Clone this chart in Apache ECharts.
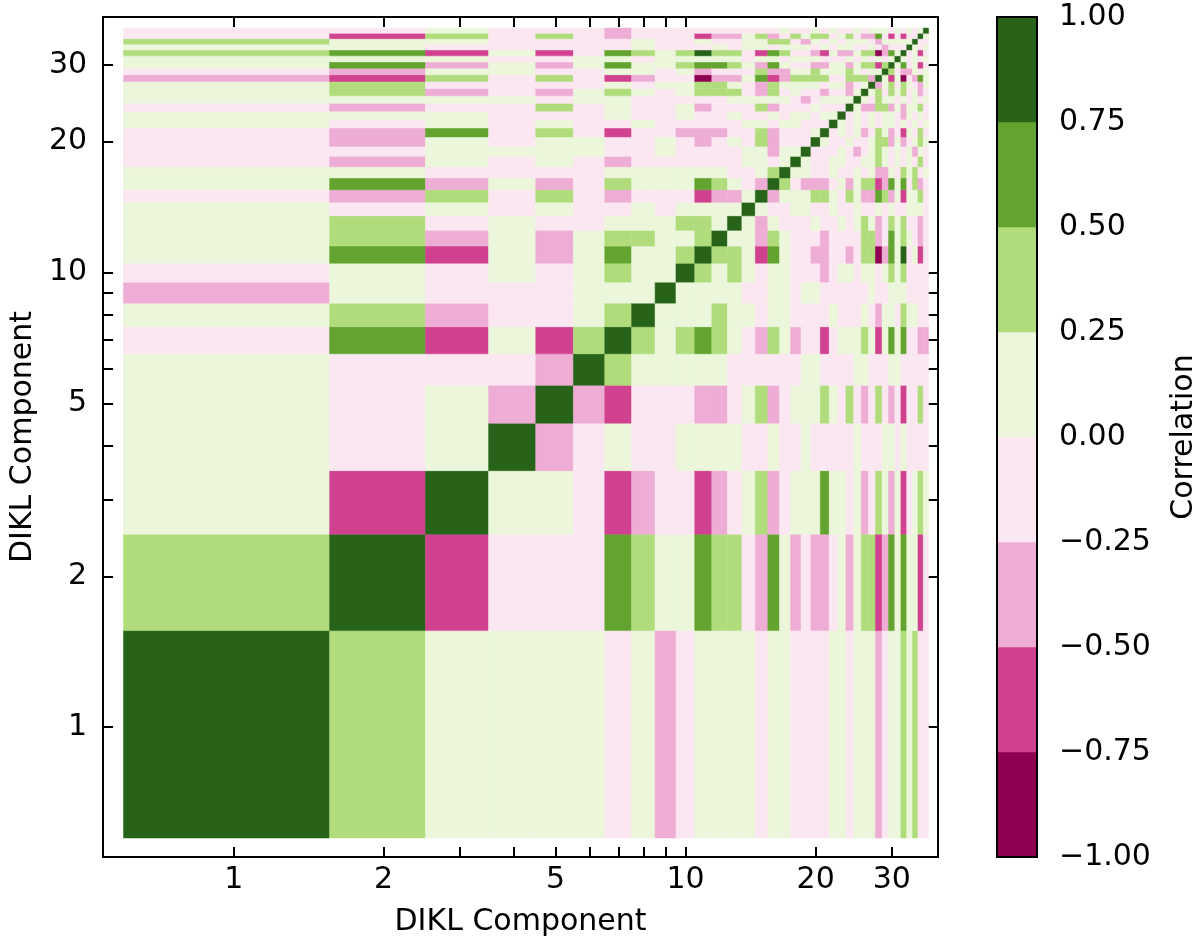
<!DOCTYPE html>
<html>
<head>
<meta charset="utf-8">
<script src="https://cdn.jsdelivr.net/npm/echarts@6/dist/echarts.min.js"></script>
<style>html,body{margin:0;padding:0;background:#fff}#chart{width:1200px;height:947px}</style>
</head>
<body>
<div id="chart"></div>
<script>
// ---------------- data ----------------
const componentCount = 36;
const tickPositions = [0.9, 2, 5, 10, 20, 30];
const tickLabels = ['1', '2', '5', '10', '20', '30'];
const minorTickPositions = [3, 4, 6, 7, 8, 9];
const colorBounds = [-1, -0.75, -0.5, -0.25, 0, 0.25, 0.5, 0.75, 1];
const binColors = ['#8e0152', '#d0428f', '#eeadd4', '#fbe7f1', '#ebf6db', '#b0dc7c', '#62a42f', '#276419'];

// correlation of component i with components j = i+1 .. 36
const c01 = [0.4, 0.1, 0.1, 0.1, 0.1, -0.1, 0.1, -0.4, -0.1, 0.1, 0.1, 0.1, 0.1, -0.1, 0.1, 0.1, -0.1, -0.1, -0.1, -0.1, 0.1, 0.1, -0.1, 0.1, 0.1, 0.1, -0.4, -0.1, 0.1, 0.1, 0.4, 0.1, 0.4, -0.1, -0.1];
const c02 = [-0.6, -0.1, -0.1, -0.1, 0.6, 0.4, 0.1, 0.1, 0.6, 0.4, 0.4, -0.1, -0.4, 0.6, 0.1, -0.4, -0.1, -0.4, -0.4, -0.1, 0.1, -0.4, 0.1, 0.4, 0.4, -0.6, -0.4, 0.6, 0.1, 0.6, 0.1, 0.1, -0.6, -0.1];
const c03 = [0.1, 0.1, -0.1, -0.6, -0.4, -0.1, -0.1, -0.6, -0.4, -0.1, 0.1, 0.4, -0.4, -0.1, 0.1, 0.1, 0.1, 0.6, 0.1, 0.1, -0.1, 0.1, -0.4, -0.1, 0.4, 0.1, -0.4, 0.1, -0.6, -0.1, 0.1, 0.4, 0.1];
const c04 = [-0.4, -0.1, 0.1, -0.1, -0.1, 0.1, 0.1, 0.1, 0.1, -0.1, -0.1, 0.1, -0.1, -0.1, 0.1, -0.1, -0.1, -0.1, -0.1, -0.1, 0.1, -0.1, -0.1, -0.1, 0.1, 0.1, -0.1, 0.1, -0.1, -0.1, -0.1, -0.1];
const c05 = [-0.4, -0.6, -0.1, -0.1, -0.1, -0.4, -0.4, -0.1, 0.1, 0.4, -0.4, -0.1, 0.1, 0.1, 0.1, 0.4, 0.1, -0.1, 0.4, -0.1, -0.4, -0.1, 0.4, -0.1, -0.4, -0.1, -0.6, -0.1, -0.1, 0.4, -0.1];
const c06 = [0.4, 0.1, 0.1, 0.1, 0.1, 0.1, -0.1, -0.1, -0.1, -0.1, -0.1, -0.1, 0.1, 0.1, -0.1, -0.1, -0.1, -0.1, 0.1, 0.1, -0.1, -0.1, -0.1, 0.1, 0.1, -0.1, -0.1, -0.1, -0.1, -0.1];
const c07 = [0.4, 0.1, 0.4, 0.6, 0.4, 0.1, -0.1, -0.4, 0.4, 0.1, -0.4, -0.1, -0.1, -0.6, -0.1, 0.1, 0.1, 0.1, 0.4, 0.1, -0.6, 0.1, 0.6, 0.1, 0.6, -0.1, -0.1, -0.4, -0.4];
const c08 = [0.1, 0.1, 0.1, 0.4, 0.1, 0.1, -0.1, 0.1, 0.1, -0.1, -0.1, -0.1, -0.1, 0.1, -0.1, -0.1, -0.1, 0.1, -0.1, -0.4, 0.1, 0.1, -0.1, 0.4, 0.1, 0.1, -0.1, -0.1];
const c09 = [0.1, 0.1, 0.1, 0.1, -0.1, -0.1, 0.1, 0.1, -0.1, 0.1, 0.1, -0.1, -0.1, -0.1, -0.1, -0.1, -0.1, 0.1, -0.1, -0.1, 0.1, 0.1, 0.1, -0.1, -0.1, -0.1, -0.1];
const c10 = [0.4, 0.1, 0.4, 0.1, -0.1, 0.1, 0.1, -0.1, -0.1, -0.1, -0.4, -0.1, 0.1, 0.1, -0.1, 0.1, 0.1, -0.1, 0.1, 0.4, 0.1, 0.4, -0.1, -0.1, -0.1, -0.1];
const c11 = [0.4, 0.4, 0.1, -0.6, 0.6, 0.1, -0.1, -0.1, -0.4, -0.4, -0.1, -0.1, -0.4, -0.1, 0.4, 0.4, -0.9, -0.4, 0.6, 0.1, 0.9, -0.1, 0.1, -0.6, -0.1];
const c12 = [0.1, 0.1, -0.4, 0.4, 0.1, -0.1, -0.1, -0.1, -0.4, -0.1, -0.1, -0.1, -0.1, 0.4, 0.4, -0.4, -0.1, 0.6, 0.1, 0.4, 0.1, -0.1, -0.4, -0.1];
const c13 = [0.1, -0.4, 0.1, -0.1, -0.1, -0.1, 0.1, -0.1, -0.1, 0.1, -0.1, 0.1, 0.4, 0.1, -0.4, -0.1, 0.4, 0.1, 0.4, -0.1, -0.1, -0.4, -0.1];
const c14 = [0.1, -0.1, -0.1, 0.1, 0.1, -0.1, -0.1, 0.1, -0.1, -0.1, 0.1, -0.1, -0.1, 0.1, -0.1, 0.1, -0.1, -0.1, 0.1, 0.1, 0.1, -0.1];
const c15 = [-0.4, 0.1, 0.1, 0.1, 0.4, 0.4, 0.1, -0.1, 0.4, 0.1, -0.4, -0.4, 0.6, 0.4, -0.4, 0.1, -0.6, 0.1, 0.1, 0.4, -0.1];
const c16 = [0.4, -0.1, -0.4, -0.4, -0.4, -0.1, 0.1, -0.4, 0.1, 0.4, 0.4, -0.6, -0.4, 0.6, 0.1, 0.6, -0.1, 0.4, -0.4, -0.1];
const c17 = [0.1, 0.1, -0.1, -0.1, 0.1, -0.1, -0.1, 0.1, -0.1, 0.1, -0.4, -0.4, 0.1, -0.1, 0.4, 0.1, 0.4, -0.1, 0.1];
const c18 = [0.1, -0.1, -0.1, 0.1, 0.1, -0.1, -0.1, 0.1, 0.1, 0.4, 0.1, -0.1, 0.1, -0.1, 0.1, -0.1, 0.4, -0.1];
const c19 = [-0.1, -0.1, -0.1, 0.1, -0.1, -0.4, -0.1, 0.1, 0.4, 0.1, -0.1, 0.1, -0.1, 0.1, -0.4, 0.1, -0.1];
const c20 = [0.1, -0.1, -0.1, 0.1, -0.1, -0.1, 0.1, 0.4, 0.4, -0.4, 0.1, -0.4, -0.1, 0.1, 0.4, 0.1];
const c21 = [-0.1, 0.1, -0.1, 0.1, -0.4, -0.1, 0.4, 0.1, -0.4, -0.1, -0.6, 0.1, -0.1, 0.4, -0.1];
const c22 = [0.1, -0.1, 0.1, -0.1, 0.1, -0.1, 0.1, 0.1, -0.1, 0.1, -0.1, 0.1, -0.1, 0.1];
const c23 = [-0.1, 0.1, -0.1, 0.1, -0.1, 0.1, 0.1, -0.1, -0.4, 0.1, -0.1, 0.1, -0.1];
const c24 = [0.1, -0.4, -0.4, 0.4, 0.4, -0.4, 0.1, -0.4, 0.1, 0.1, 0.4, -0.1];
const c25 = [0.1, -0.1, 0.4, 0.1, 0.1, -0.1, 0.1, -0.1, 0.1, -0.1, 0.1];
const c26 = [0.1, 0.4, -0.1, 0.4, 0.1, 0.4, -0.1, 0.1, -0.4, -0.1];
const c27 = [-0.4, 0.1, 0.4, -0.1, 0.4, 0.1, -0.1, -0.4, 0.1];
const c28 = [0.1, -0.6, 0.1, -0.9, -0.1, -0.4, 0.6, 0.1];
const c29 = [0.4, -0.1, -0.4, -0.4, 0.1, -0.1, 0.1];
const c30 = [0.1, 0.6, -0.1, 0.1, -0.6, -0.1];
const c31 = [0.1, -0.1, 0.1, -0.1, 0.1];
const c32 = [-0.1, 0.1, -0.6, -0.1];
const c33 = [0.1, -0.1, 0.1];
const c34 = [-0.1, -0.1];
const c35 = [0.1];

const upperRows = [c01, c02, c03, c04, c05, c06, c07, c08, c09, c10, c11, c12, c13, c14, c15, c16, c17, c18, c19, c20,
  c21, c22, c23, c24, c25, c26, c27, c28, c29, c30, c31, c32, c33, c34, c35];

// ---------------- build ----------------
const L = Math.log10;
const FONT = 'DejaVu Sans';
const xRange = [-0.3482, 1.5842];
const yRange = [-0.3447, 1.5877];

function corr(i, j) {
  if (i === j) return 1;
  const a = Math.min(i, j), b = Math.max(i, j);
  return upperRows[a - 1][b - a - 1];
}
function binColor(v) {
  let k = 0;
  while (k < binColors.length - 1 && v >= colorBounds[k + 1]) k++;
  return binColors[k];
}

const cells = [];
for (let i = 1; i <= componentCount; i++) {
  for (let j = 1; j <= componentCount; j++) {
    cells.push([L(i - 0.5), L(i + 0.5), L(j - 0.5), L(j + 0.5), corr(i, j)]);
  }
}
const barBins = [];
for (let k = 0; k < binColors.length; k++) barBins.push([0, 1, colorBounds[k], colorBounds[k + 1], k]);

const allTicks = tickPositions.concat(minorTickPositions).map(L);
const labelVals = tickPositions.map(L);
const labelMap = {};
tickPositions.forEach((t, k) => { labelMap[L(t).toFixed(6)] = tickLabels[k]; });
const fmt = v => labelMap[Number(v).toFixed(6)] || '';

const lineStyle = { color: '#000', width: 2 };
function mainAxis(kind, position, showLabel, extra) {
  const range = kind === 'x' ? xRange : yRange;
  return Object.assign({
    type: 'value', gridIndex: 0, position: position,
    min: range[0], max: range[1],
    axisLine: { show: true, onZero: false, lineStyle: lineStyle },
    axisTick: { show: true, inside: true, length: 10, lineStyle: lineStyle, customValues: allTicks },
    axisLabel: { show: showLabel, customValues: labelVals, formatter: fmt,
      fontFamily: FONT, fontSize: 30, color: '#000', margin: kind === 'x' ? 8 : 16 },
    splitLine: { show: false }
  }, extra || {});
}

const chart = echarts.init(document.getElementById('chart'), null, { renderer: 'canvas', width: 1200, height: 947 });
chart.setOption({
  animation: false,
  backgroundColor: '#fff',
  grid: [
    { left: 98, top: 17, width: 840, height: 840, containLabel: false },
    { left: 997, top: 17, width: 41, height: 840, containLabel: false }
  ],
  xAxis: [
    mainAxis('x', 'bottom', true, { name: 'DIKL Component', nameLocation: 'middle', nameGap: 50,
      nameTextStyle: { fontFamily: FONT, fontSize: 30, color: '#000' } }),
    mainAxis('x', 'top', false),
    { type: 'value', gridIndex: 1, min: 0, max: 1, show: false }
  ],
  yAxis: [
    mainAxis('y', 'left', true, { name: 'DIKL Component', nameLocation: 'middle', nameGap: 58, nameRotate: 90,
      nameTextStyle: { fontFamily: FONT, fontSize: 30, color: '#000' } }),
    mainAxis('y', 'right', false),
    {
      type: 'value', gridIndex: 1, position: 'right', min: -1, max: 1, interval: 0.25,
      axisLine: { show: true, lineStyle: lineStyle },
      axisTick: { show: true, inside: false, length: 10, lineStyle: lineStyle },
      axisLabel: { fontFamily: FONT, fontSize: 30, color: '#000', margin: 22,
        formatter: v => Math.abs(v) < 1e-9 ? '0.00' : (v < 0 ? '\u2212' : '') + Math.abs(v).toFixed(2) },
      splitLine: { show: false },
      name: 'Correlation', nameLocation: 'middle', nameRotate: 90, nameGap: 132,
      nameTextStyle: { fontFamily: FONT, fontSize: 30, color: '#000' }
    }
  ],
  series: [
    {
      type: 'custom', xAxisIndex: 0, yAxisIndex: 0, data: cells,
      encode: { x: [0, 1], y: [2, 3] },
      renderItem: function (params, api) {
        const p0 = api.coord([api.value(0), api.value(2)]);
        const p1 = api.coord([api.value(1), api.value(3)]);
        const c = binColor(api.value(4));
        return { type: 'rect',
          shape: { x: p0[0], y: p1[1], width: p1[0] - p0[0], height: p0[1] - p1[1] },
          style: { fill: c, stroke: c, lineWidth: 0.5 } };
      }
    },
    {
      type: 'custom', xAxisIndex: 2, yAxisIndex: 2, data: barBins,
      encode: { x: [0, 1], y: [2, 3] },
      renderItem: function (params, api) {
        const p0 = api.coord([api.value(0), api.value(2)]);
        const p1 = api.coord([api.value(1), api.value(3)]);
        const c = binColors[api.value(4)];
        return { type: 'rect',
          shape: { x: p0[0], y: p1[1], width: p1[0] - p0[0], height: p0[1] - p1[1] },
          style: { fill: c, stroke: c, lineWidth: 0.5 } };
      }
    },
    {
      type: 'custom', xAxisIndex: 2, yAxisIndex: 2, z: 5, data: [[0, 1, -1, 1]],
      encode: { x: [0, 1], y: [2, 3] },
      renderItem: function (params, api) {
        const p0 = api.coord([api.value(0), api.value(2)]);
        const p1 = api.coord([api.value(1), api.value(3)]);
        return { type: 'rect',
          shape: { x: p0[0], y: p1[1], width: p1[0] - p0[0], height: p0[1] - p1[1] },
          style: { fill: 'none', stroke: '#000', lineWidth: 2 } };
      }
    }
  ]
});
</script>
</body>
</html>
